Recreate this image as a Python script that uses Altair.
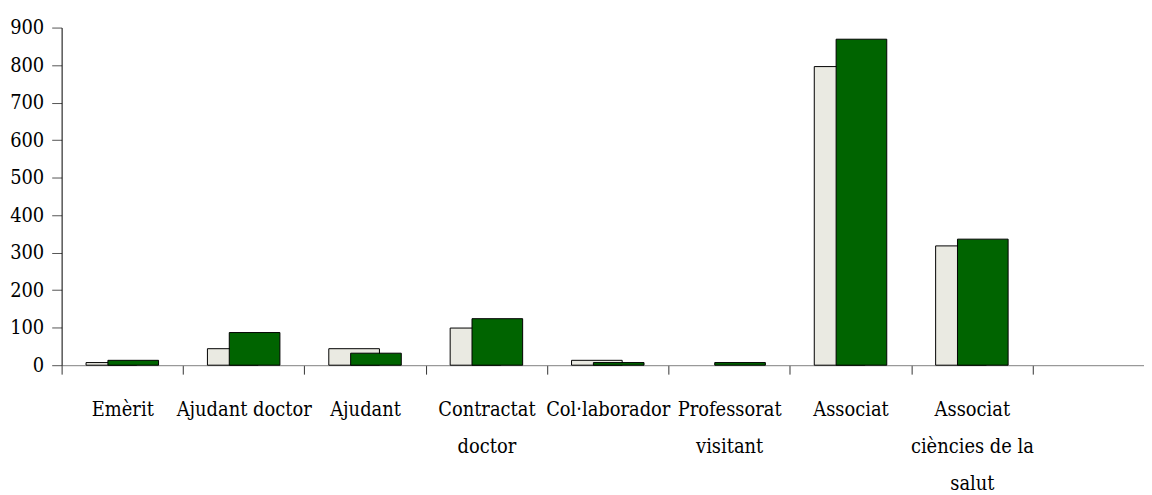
import altair as alt
import pandas as pd

categories = ["Emèrit", "Ajudant doctor", "Ajudant", "Contractat doctor",
              "Col·laborador", "Professorat visitant", "Associat",
              "Associat ciències de la salut", " "]
series_a = [7, 44, 44, 99, 13, None, 796, 318, None]     # light bars
series_b = [13, 87, 32, 124, 7, 7, 869, 336, None]       # green bars
wrapped = {
    "Contractat doctor": ["Contractat", "doctor"],
    "Professorat visitant": ["Professorat", "visitant"],
    "Associat ciències de la salut": ["Associat", "ciències de la", "salut"],
}
y_ticks = [0, 100, 200, 300, 400, 500, 600, 700, 800, 900]

df = pd.DataFrame({"cat": categories, "a": series_a, "b": series_b})

label_expr = "datum.label"
for k, v in wrapped.items():
    arr = "[" + ",".join("'" + s + "'" for s in v) + "]"
    label_expr = f"datum.label == '{k}' ? {arr} : ({label_expr})"

FONT = "DejaVu Serif Condensed"

x = alt.X("cat:N", sort=categories,
          scale=alt.Scale(domain=categories, paddingInner=0, paddingOuter=0,
                          range=[0, 1100]),
          axis=alt.Axis(title=None, labelAngle=0, tickBand="extent",
                        domainColor="#808080", tickColor="#333333",
                        tickSize=9, labelPadding=26, labelFont=FONT,
                        labelFontSize=20, labelColor="black",
                        labelLineHeight=37, labelExpr=label_expr,
                        labelBaseline="top", labelLimit=200))
yscale = alt.Scale(domain=[0, 900], nice=False)
yaxis = alt.Axis(title=None, values=y_ticks, grid=False, domainColor="black",
                 tickColor="#555555", tickSize=10, labelPadding=8,
                 labelFont=FONT, labelFontSize=20, labelColor="black")

bars_a = alt.Chart(df).mark_bar(width=51, xOffset=-11, fill="#EAEAE2",
                                stroke="black", strokeWidth=1).encode(
    x=x, y=alt.Y("a:Q", scale=yscale, axis=yaxis))
bars_b = alt.Chart(df).mark_bar(width=51, xOffset=11, fill="#006400",
                                stroke="black", strokeWidth=1).encode(
    x=x, y=alt.Y("b:Q", scale=yscale, axis=yaxis))

chart = alt.layer(bars_a, bars_b).properties(
    width=1090, height=340,
    autosize=alt.AutoSizeParams(type="none"),
    padding={"left": 54, "top": 18, "right": 0, "bottom": 129},
).configure_view(stroke=None)

chart.save("out.html", embed_options={"renderer": "svg", "actions": False})
